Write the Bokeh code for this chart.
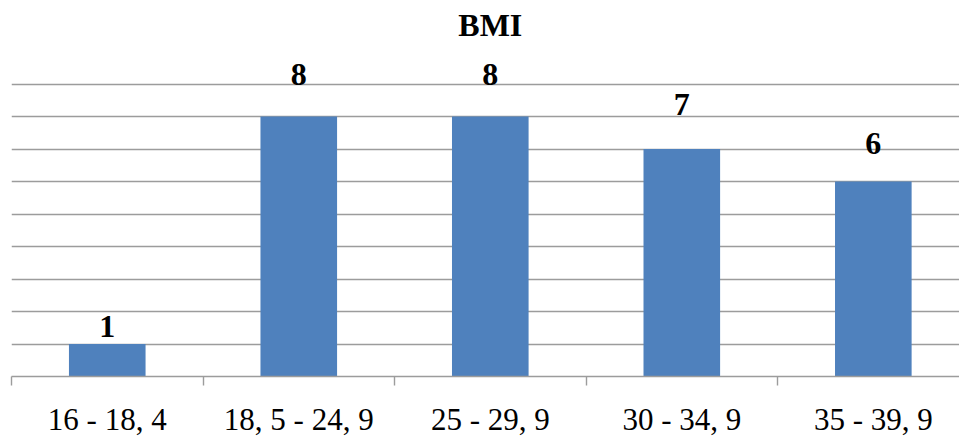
from bokeh.plotting import figure
from bokeh.models import ColumnDataSource, FixedTicker, Range1d, Label
from bokeh.core.properties import value
from bokeh.embed import file_html
from bokeh.resources import INLINE

# BMI classes and the number of people in each
categories = ["16 - 18, 4", "18, 5 - 24, 9", "25 - 29, 9", "30 - 34, 9", "35 - 39, 9"]
counts = [1, 8, 8, 7, 6]

# gap (px) between each bar top and its value label
label_gap = [6, 30, 30, 33, 26]

centers = [i + 0.5 for i in range(len(categories))]
src = ColumnDataSource(dict(
    x=centers,
    top=counts,
    label=[str(c) for c in counts],
    yoff=[-(g + 12) for g in label_gap],
))

FONT = "Liberation Serif"
GRID = "#9c9c9c"

# frame spans the full height above the axis; y=9 sits 84px below the top
FRAME_H = 378
Y_TOP = 9 * FRAME_H / (FRAME_H - 84)

p = figure(
    width=959, height=439,
    output_backend="svg", toolbar_location=None,
    x_range=Range1d(0, 4.95), y_range=Range1d(0, Y_TOP),
    min_border_left=11, min_border_right=0,
    min_border_top=0, min_border_bottom=61,
)
p.outline_line_color = None
p.background_fill_color = "white"
p.border_fill_color = "white"

p.add_layout(Label(x=2.5, y=Y_TOP, y_offset=-24, text="BMI",
                   text_align="center", text_baseline="alphabetic",
                   text_font=FONT, text_font_size="32px",
                   text_font_style="bold", text_color="black"))

p.vbar(x="x", top="top", width=0.4, bottom=0, source=src,
       fill_color="#4f81bd", line_color=None)

p.text(x="x", y="top", text="label", source=src,
       y_offset="yoff",
       text_align="center", text_baseline="alphabetic",
       text_font=value(FONT), text_font_size="32px",
       text_font_style="bold", text_color="black")

# horizontal gridlines at every unit
p.yaxis.visible = False
p.ygrid.ticker = FixedTicker(ticks=list(range(1, 10)))
p.ygrid.grid_line_color = GRID
p.ygrid.grid_line_width = 1.4
p.xgrid.visible = False

ax = p.xaxis[0]
ax.ticker = FixedTicker(ticks=centers, minor_ticks=list(range(len(categories) + 1)))
ax.major_label_overrides = {c: lab for c, lab in zip(centers, categories)}
ax.axis_line_color = GRID
ax.axis_line_width = 1.4
ax.major_tick_line_color = None
ax.major_tick_out = 0
ax.major_tick_in = 0
ax.minor_tick_line_color = GRID
ax.minor_tick_line_width = 1.4
ax.minor_tick_out = 9
ax.minor_tick_in = 0
ax.major_label_standoff = 16
ax.major_label_text_font = FONT
ax.major_label_text_font_size = "31px"
ax.major_label_text_color = "black"

open("out.html", "w").write(file_html(p, INLINE))
